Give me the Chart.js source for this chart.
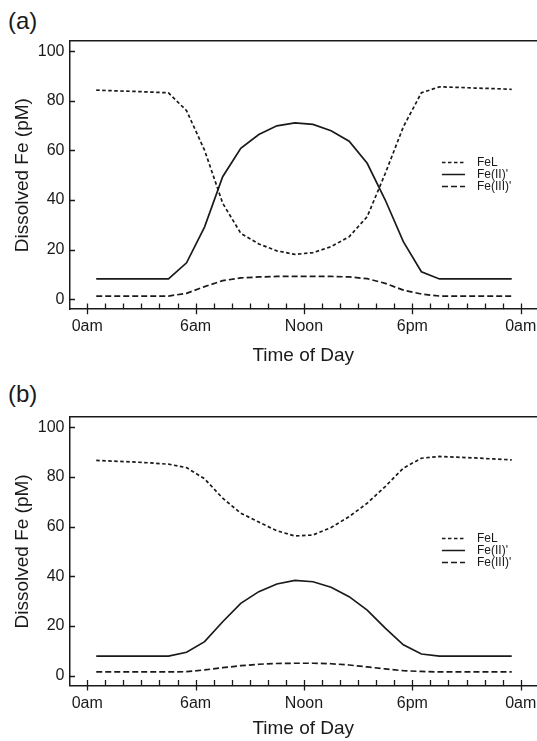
<!DOCTYPE html>
<html>
<head>
<meta charset="utf-8">
<script src="https://cdn.jsdelivr.net/npm/chart.js@4.4.1/dist/chart.umd.min.js"></script>
<style>
    html, body { margin: 0; padding: 0; background: #fff; overflow: hidden; }
    #wrap { position: relative; width: 537px; height: 741px; }
    canvas { position: absolute; left: 0; }
    .tag { position: absolute; left: 8px; font-family: "Liberation Sans", Arial, sans-serif; font-size: 24px; line-height: 24px; color: #1a1a1a; }
</style>
</head>
<body>
<div id="wrap">
    <div class="tag" style="top:9px;">(a)</div>
    <canvas id="panelA" width="537" height="376" style="top:0;"></canvas>
    <div class="tag" style="top:382px;">(b)</div>
    <canvas id="panelB" width="537" height="365" style="top:376px;"></canvas>
</div>
<script>
// time of day (hours), one value per hour
const hours = [0.5, 1.5, 2.5, 3.5, 4.5, 5.5, 6.5, 7.5, 8.5, 9.5, 10.5, 11.5,
               12.5, 13.5, 14.5, 15.5, 16.5, 17.5, 18.5, 19.5, 20.5, 21.5, 22.5, 23.5];

// panel (a)
const feL_a   = [84.3, 84.0, 83.8, 83.5, 83.2, 76.0, 60.0, 38.7, 26.6, 22.3, 19.5, 18.1,
                 18.8, 21.2, 25.2, 33.3, 50.7, 69.5, 83.2, 85.6, 85.4, 85.1, 84.9, 84.6];
const feII_a  = [8.2, 8.2, 8.2, 8.2, 8.2, 14.7, 29.2, 49.4, 60.8, 66.4, 69.9, 71.1,
                 70.5, 67.9, 63.7, 54.8, 40.0, 23.2, 11.1, 8.2, 8.2, 8.2, 8.2, 8.2];
const feIII_a = [1.3, 1.3, 1.3, 1.3, 1.3, 2.4, 5.1, 7.5, 8.6, 9.0, 9.2, 9.2,
                 9.2, 9.2, 9.0, 8.3, 6.4, 3.7, 2.1, 1.3, 1.3, 1.3, 1.3, 1.3];

// panel (b)
const feL_b   = [86.6, 86.3, 86.0, 85.6, 85.1, 83.7, 79.2, 71.4, 65.4, 61.8, 58.3, 56.2,
                 56.6, 59.6, 64.0, 69.4, 76.1, 83.5, 87.5, 88.2, 87.9, 87.6, 87.2, 86.8];
const feII_b  = [7.9, 7.9, 7.9, 7.9, 7.9, 9.4, 13.7, 21.7, 29.1, 33.8, 36.9, 38.3,
                 37.8, 35.6, 31.8, 26.4, 19.1, 12.4, 8.7, 7.9, 7.9, 7.9, 7.9, 7.9];
const feIII_b = [1.5, 1.5, 1.5, 1.5, 1.5, 1.6, 2.3, 3.2, 4.0, 4.6, 4.9, 5.0,
                 5.0, 4.8, 4.3, 3.5, 2.7, 2.0, 1.7, 1.5, 1.5, 1.5, 1.5, 1.5];

const seriesNames = ["FeL", "Fe(II)'", "Fe(III)'"];
const xTickHours = [0, 6, 12, 18, 24];
const xTickLabels = ["0am", "6am", "Noon", "6pm", "0am"];
const yTicks = [0, 20, 40, 60, 80, 100];

const ink = "#1a1a1a";
const fontFamily = '"Liberation Sans", Arial, sans-serif';
const dashes = [[3.5, 2.5], [], [6, 3]];

// inward ticks on y, hourly ticks on x (major every 6h crosses the axis)
const tickMarks = {
    id: "tickMarks",
    afterDraw(chart) {
        const { ctx, chartArea, scales } = chart;
        ctx.save();
        ctx.strokeStyle = ink;
        ctx.lineWidth = 1.3;
        ctx.beginPath();
        scales.y.ticks.forEach(t => {
            const py = Math.round(scales.y.getPixelForValue(t.value)) + 0.5;
            ctx.moveTo(chartArea.left, py);
            ctx.lineTo(chartArea.left + 5.5, py);
        });
        for (let h = 0; h <= 24; h++) {
            const px = Math.round(scales.x.getPixelForValue(h)) + 0.5;
            const major = xTickHours.includes(h);
            ctx.moveTo(px, chartArea.bottom - 5.7);
            ctx.lineTo(px, chartArea.bottom + (major ? 5 : 0));
        }
        ctx.stroke();
        ctx.restore();
    }
};

const lineLegend = {
    id: "lineLegend",
    afterDraw(chart) {
        const ctx = chart.ctx;
        ctx.save();
        ctx.font = "12px " + fontFamily;
        ctx.fillStyle = ink;
        ctx.textBaseline = "middle";
        chart.data.datasets.forEach((ds, i) => {
            const y = 162.5 + i * 12;
            ctx.strokeStyle = ink;
            ctx.lineWidth = 1.5;
            ctx.setLineDash(ds.borderDash);
            ctx.beginPath();
            ctx.moveTo(442, y);
            ctx.lineTo(465, y);
            ctx.stroke();
            ctx.setLineDash([]);
            ctx.fillText(ds.label, 477, y);
        });
        ctx.restore();
    }
};

function makePanel(canvasId, values, axisHeight, titleGap) {
    const ctx = document.getElementById(canvasId).getContext("2d");
    return new Chart(ctx, {
        type: "line",
        data: {
            datasets: values.map((vals, i) => ({
                label: seriesNames[i],
                data: hours.map((h, k) => ({ x: h, y: vals[k] })),
                borderColor: ink,
                borderWidth: 1.7,
                borderDash: dashes[i],
                pointRadius: 0,
                fill: false,
                tension: 0
            }))
        },
        options: {
            responsive: false,
            animation: false,
            layout: { padding: { top: 41.2, left: 0, right: 0, bottom: 0 } },
            plugins: { legend: { display: false }, tooltip: { enabled: false } },
            scales: {
                x: {
                    type: "linear",
                    position: "bottom",
                    min: -0.98,
                    max: 24.9,
                    afterBuildTicks: s => { s.ticks = xTickHours.map(v => ({ value: v })); },
                    ticks: {
                        autoSkip: false,
                        maxRotation: 0,
                        padding: 8,
                        color: ink,
                        font: { family: fontFamily, size: 16 },
                        callback: v => xTickLabels[xTickHours.indexOf(v)]
                    },
                    grid: { display: false, drawTicks: false },
                    border: { display: true, color: ink, width: 1.5 },
                    title: {
                        display: true,
                        text: "Time of Day",
                        color: ink,
                        font: { family: fontFamily, size: 19 },
                        padding: { top: 0, bottom: titleGap }
                    },
                    afterFit: s => { s.height = axisHeight; s.paddingLeft = 0; s.paddingRight = 0; }
                },
                xTop: {
                    axis: "x",
                    type: "linear",
                    position: "top",
                    min: -0.98,
                    max: 24.9,
                    ticks: { display: false },
                    grid: { display: false, drawTicks: false },
                    border: { display: true, color: ink, width: 1.5 },
                    afterFit: s => { s.height = 0; s.paddingLeft = 0; s.paddingRight = 0; }
                },
                y: {
                    min: -4,
                    max: 104,
                    afterBuildTicks: s => { s.ticks = yTicks.map(v => ({ value: v })); },
                    ticks: {
                        padding: 5,
                        color: ink,
                        font: { family: fontFamily, size: 16 }
                    },
                    grid: { display: false, drawTicks: false },
                    border: { display: true, color: ink, width: 1.5 },
                    title: {
                        display: true,
                        text: "Dissolved Fe (pM)",
                        color: ink,
                        font: { family: fontFamily, size: 19 },
                        padding: { top: 11, bottom: 0 }
                    },
                    afterFit: s => { s.width = 69.5; s.paddingTop = 0; s.paddingBottom = 0; }
                }
            }
        },
        plugins: [tickMarks, lineLegend]
    });
}

makePanel("panelA", [feL_a, feII_a, feIII_a], 66.8, 9);
makePanel("panelB", [feL_b, feII_b, feIII_b], 55.4, 1);
</script>
</body>
</html>
